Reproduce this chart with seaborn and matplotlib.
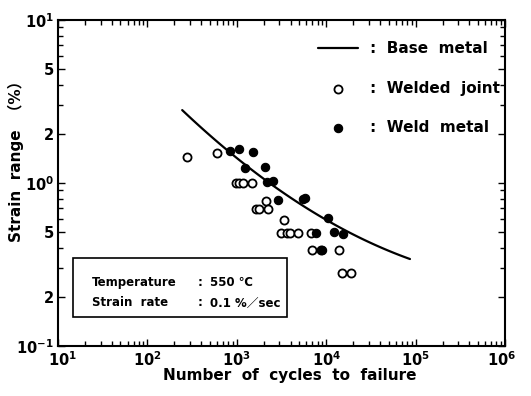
import numpy as np
import pandas as pd
import matplotlib
matplotlib.use("Agg")
import matplotlib.pyplot as plt
import matplotlib.ticker as mticker
import matplotlib.transforms as mtransforms
from matplotlib.patches import Rectangle
import seaborn as sns

# ---------------- data ----------------
base_cycles = [245, 1000, 3300, 10000, 30000, 86500]
base_strain = [2.87, 1.36, 0.865, 0.61, 0.447, 0.333]

joint_cycles = [277, 600, 980, 1060, 1175, 1480, 2140, 1640, 1760, 2240,
                3390, 3120, 3630, 3940, 4780, 6740, 6890, 8730, 14000,
                14900, 18800]
joint_strain = [1.45, 1.53, 1.0, 1.0, 1.0, 1.0, 0.78, 0.69, 0.69, 0.69,
                0.59, 0.49, 0.49, 0.49, 0.49, 0.49, 0.39, 0.39, 0.39,
                0.28, 0.28]

weld_cycles = [845, 1060, 1530, 1245, 2085, 2160, 2560, 2890, 5460, 5830,
               7690, 8900, 10560, 12200, 15500]
weld_strain = [1.58, 1.61, 1.56, 1.24, 1.26, 1.01, 1.03, 0.79, 0.80, 0.81,
               0.49, 0.39, 0.61, 0.50, 0.485]

series_labels = [":  Base  metal", ":  Welded  joint", ":  Weld  metal"]
x_ticks = [1e1, 1e2, 1e3, 1e4, 1e5, 1e6]
x_ticklabels = [r"$\mathdefault{10^{1}}$", r"$\mathdefault{10^{2}}$",
                r"$\mathdefault{10^{3}}$", r"$\mathdefault{10^{4}}$",
                r"$\mathdefault{10^{5}}$", r"$\mathdefault{10^{6}}$"]
y_ticks = [0.1, 0.2, 0.5, 1, 2, 5, 10]
y_ticklabels = [r"$\mathdefault{10^{-1}}$", "2", "5", r"$\mathdefault{10^{0}}$",
                "2", "5", r"$\mathdefault{10^{1}}$"]
box_lines = [("Temperature", "550 ℃"), ("Strain  rate", "0.1 %／sec")]

# ---------------- style ----------------
sns.set_theme(style="ticks")
plt.rcParams["font.family"] = ["DejaVu Sans", "Noto Sans CJK JP"]
plt.rcParams["font.weight"] = "bold"
plt.rcParams["mathtext.default"] = "bf"
for key in ("text.color", "axes.labelcolor", "xtick.color", "ytick.color",
            "axes.edgecolor"):
    plt.rcParams[key] = "black"

fig = plt.figure(figsize=(5.31, 3.96), dpi=100)
ax = fig.add_axes([58 / 531, 50 / 396, 447 / 531, 326 / 396])

base_df = pd.DataFrame({"N": base_cycles, "strain": base_strain})
joint_df = pd.DataFrame({"N": joint_cycles, "strain": joint_strain})
weld_df = pd.DataFrame({"N": weld_cycles, "strain": weld_strain})

ax.set_xscale("log")
ax.set_yscale("log")

# smooth base-metal curve through read points (in log space)
lx = np.log10(base_df["N"].values)
ly = np.log10(base_df["strain"].values)
coef = np.polyfit(lx, ly, 2)
xx = np.linspace(lx.min(), lx.max(), 100)
curve_df = pd.DataFrame({"N": 10 ** xx, "strain": 10 ** np.polyval(coef, xx)})
sns.lineplot(data=curve_df, x="N", y="strain", ax=ax, color="black",
             linewidth=1.6, label=series_labels[0], sort=True)

sns.scatterplot(data=joint_df, x="N", y="strain", ax=ax, marker="o",
                facecolor="white", edgecolor="black", linewidth=1.3, s=34,
                label=series_labels[1], zorder=3)
sns.scatterplot(data=weld_df, x="N", y="strain", ax=ax, marker="o",
                color="black", edgecolor="black", linewidth=0.8, s=36,
                label=series_labels[2], zorder=4)

ax.set_xlim(1e1, 1e6)
ax.set_ylim(0.1, 10)

ax.set_xticks(x_ticks)
ax.set_xticklabels(x_ticklabels)
ax.xaxis.set_minor_locator(mticker.LogLocator(base=10, subs=np.arange(2, 10)))
ax.xaxis.set_minor_formatter(mticker.NullFormatter())
ax.set_yticks(y_ticks)
ax.set_yticklabels(y_ticklabels)
ax.yaxis.set_minor_locator(mticker.FixedLocator(
    [v * d for d in (0.1, 1) for v in (3, 4, 6, 7, 8, 9)]))
ax.yaxis.set_minor_formatter(mticker.NullFormatter())

ax.tick_params(which="both", direction="in", top=True, right=True,
               width=1.0, colors="black", labelsize=10.5)
ax.tick_params(which="major", length=5, pad=3)
ax.tick_params(which="minor", length=3.5)
for sp in ax.spines.values():
    sp.set_linewidth(1.5)
    sp.set_color("black")

# nudge the end x tick labels inward, as in the reference
xl = ax.get_xticklabels()
xl[0].set_transform(xl[0].get_transform() +
                    mtransforms.ScaledTranslation(5 / 100, 0, fig.dpi_scale_trans))
xl[-1].set_transform(xl[-1].get_transform() +
                     mtransforms.ScaledTranslation(-3 / 100, 0, fig.dpi_scale_trans))

ax.set_xlabel("Number  of  cycles  to  failure", fontsize=11, fontweight="bold")
ax.set_ylabel("Strain  range  （%）", fontsize=11, fontweight="bold")
ax.xaxis.set_label_coords(0.519, -0.066)
ax.yaxis.set_label_coords(-0.076, 0.577)

h, l = ax.get_legend_handles_labels()
order = [l.index(s) for s in series_labels]
leg = ax.legend([h[i] for i in order], [l[i] for i in order],
                loc="upper left", bbox_to_anchor=(0.582, 0.935),
                frameon=False, fontsize=11, handlelength=2.6,
                handletextpad=0.8, labelspacing=1.6, borderpad=0,
                borderaxespad=0)

# condition box
ax.add_patch(Rectangle((0.034, 0.089), 0.478, 0.181, transform=ax.transAxes,
                       facecolor="white", edgecolor="black", linewidth=1.2,
                       zorder=5))
for (name, value), yy in zip(box_lines, (0.196, 0.132)):
    ax.text(0.076, yy, name, transform=ax.transAxes, fontsize=8.5,
            fontweight="bold", va="center", zorder=6)
    ax.text(0.313, yy, ":", transform=ax.transAxes, fontsize=8.5,
            fontweight="bold", va="center", zorder=6)
    ax.text(0.340, yy, value, transform=ax.transAxes, fontsize=8.5,
            fontweight="bold", va="center", zorder=6)

fig.savefig("out.png", dpi=100, facecolor="white")
